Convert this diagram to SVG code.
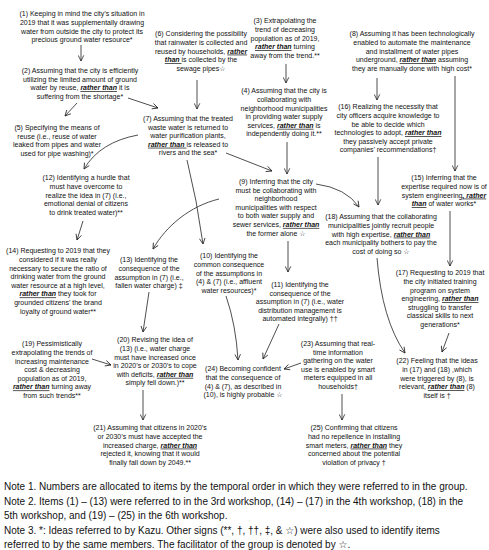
<svg xmlns="http://www.w3.org/2000/svg" width="489" height="550" viewBox="0 0 489 550">
<style>
.t{font-family:"Liberation Sans","DejaVu Sans",sans-serif;font-size:7px;fill:#111;text-anchor:middle}
.r{font-weight:bold;font-style:italic;text-decoration:underline}
.n{font-family:"Liberation Sans","DejaVu Sans",sans-serif;font-size:10px;fill:#111}
.c path{fill:none;stroke:#222;stroke-width:0.8;marker-end:url(#ah)}
</style>
<defs>
<marker id="ah" viewBox="0 0 8 8" refX="7.5" refY="4" markerWidth="7" markerHeight="7" markerUnits="userSpaceOnUse" orient="auto">
<path d="M1,0.8 L7.5,4 L1,7.2" fill="none" stroke="#222" stroke-width="0.9"/>
</marker>
</defs>
<rect width="489" height="550" fill="#fff"/>
<g class="c" id="connectors">
<path d="M81,45 L81,61"/>
<path d="M77,103 L65,116"/>
<path d="M128,98 L158,108"/>
<path d="M197,80 L197,109"/>
<path d="M286,64 L286,83"/>
<path d="M287,142 L287,174"/>
<path d="M226,153 L272,171"/>
<path d="M377,78 L377,100"/>
<path d="M455,76 L455,171"/>
<path d="M378,157 L378,205"/>
<path d="M450,211 L450,266"/>
<path d="M316,184 Q346,188 359,207"/>
<path d="M138,135 Q100,142 84,169"/>
<path d="M83,221 L77,240"/>
<path d="M219,199 C190,206 166,226 153,249"/>
<path d="M187,160 Q197,200 203,244"/>
<path d="M288,241 L288,272"/>
<path d="M149,292 Q146,312 143,332"/>
<path d="M92,359 L111,365"/>
<path d="M143,390 L143,420"/>
<path d="M226,296 Q236,325 238,360"/>
<path d="M279,324 L263,359"/>
<path d="M301,363 L284,369"/>
<path d="M342,394 L342,420"/>
<path d="M377,258 Q382,320 405,353"/>
<path d="M449,333 L442,352"/>
</g>
<g id="n1"><text class="t"><tspan x="82" y="16.4">(1) Keeping in mind the city’s situation in</tspan><tspan x="82" y="25">2019 that it was supplementally drawing</tspan><tspan x="82" y="33.6">water from outside the city to protect its</tspan><tspan x="82" y="42.2">precious ground water resource*</tspan></text></g>
<g id="n2"><text class="t"><tspan x="80" y="72.9">(2) Assuming that the city is efficiently</tspan><tspan x="80" y="81.5">utilizing the limited amount of ground</tspan><tspan x="80" y="90.1">water by reuse, <tspan class="r">rather than</tspan> it is</tspan><tspan x="80" y="98.7">suffering from the shortage*</tspan></text></g>
<g id="n5"><text class="t"><tspan x="57" y="129.9">(5) Specifying the means of</tspan><tspan x="57" y="138.5">reuse (i.e., reuse of water</tspan><tspan x="57" y="147.1">leaked from pipes and water</tspan><tspan x="57" y="155.7">used for pipe washing)*</tspan></text></g>
<g id="n6"><text class="t"><tspan x="201" y="36.4">(6) Considering the possibility</tspan><tspan x="201" y="45">that rainwater is collected and</tspan><tspan x="201" y="53.6">reused by households, <tspan class="r">rather</tspan></tspan><tspan x="201" y="62.2"><tspan class="r">than </tspan>is collected by the</tspan><tspan x="201" y="70.8">sewage pipes☆</tspan></text></g>
<g id="n7"><text class="t"><tspan x="188" y="120.9">(7) Assuming that the treated</tspan><tspan x="188" y="129.5">waste water is returned to</tspan><tspan x="188" y="138.1">water purification plants,</tspan><tspan x="188" y="146.7"><tspan class="r">rather than </tspan>is released to</tspan><tspan x="188" y="155.3">rivers and the sea*</tspan></text></g>
<g id="n3"><text class="t"><tspan x="285" y="23.4">(3) Extrapolating the</tspan><tspan x="285" y="32">trend of decreasing</tspan><tspan x="285" y="40.6">population as of 2019,</tspan><tspan x="285" y="49.2"><tspan class="r">rather than</tspan> turning</tspan><tspan x="285" y="57.8">away from the trend.**</tspan></text></g>
<g id="n4"><text class="t"><tspan x="284" y="93.4">(4) Assuming that the city is</tspan><tspan x="284" y="102">collaborating with</tspan><tspan x="284" y="110.6">neighborhood municipalities</tspan><tspan x="284" y="119.2">in providing water supply</tspan><tspan x="284" y="127.8">services, <tspan class="r">rather than</tspan> is</tspan><tspan x="284" y="136.4">independently doing it.**</tspan></text></g>
<g id="n8"><text class="t"><tspan x="412" y="36.4">(8) Assuming it has been technologically</tspan><tspan x="412" y="45">enabled to automate the maintenance</tspan><tspan x="412" y="53.6">and installment of water pipes</tspan><tspan x="412" y="62.2">underground, <tspan class="r">rather than</tspan> assuming</tspan><tspan x="412" y="70.8">they are manually done with high cost*</tspan></text></g>
<g id="n16"><text class="t"><tspan x="388" y="109.4">(16) Realizing the necessity that</tspan><tspan x="388" y="118">city officers acquire knowledge to</tspan><tspan x="388" y="126.6">be able to decide which</tspan><tspan x="388" y="135.2">technologies to adopt, <tspan class="r">rather than</tspan></tspan><tspan x="388" y="143.8">they passively accept private</tspan><tspan x="388" y="152.4">companies’ recommendations†</tspan></text></g>
<g id="n15"><text class="t"><tspan x="444" y="180.4">(15) Inferring that the</tspan><tspan x="444" y="189">expertise required now is of</tspan><tspan x="444" y="197.6">system engineering<tspan class="r">, rather</tspan></tspan><tspan x="444" y="206.2"><tspan class="r">than</tspan> of water works*</tspan></text></g>
<g id="n9"><text class="t"><tspan x="276" y="183.9">(9) Inferring that the city</tspan><tspan x="276" y="192.5">must be collaborating with</tspan><tspan x="276" y="201.1">neighborhood</tspan><tspan x="276" y="209.7">municipalities with respect</tspan><tspan x="276" y="218.3">to both water supply and</tspan><tspan x="276" y="226.9">sewer services, <tspan class="r">rather than</tspan></tspan><tspan x="276" y="235.5">the former alone ☆</tspan></text></g>
<g id="n18"><text class="t"><tspan x="381" y="219.4">(18) Assuming that the collaborating</tspan><tspan x="381" y="228">municipalities jointly recruit people</tspan><tspan x="381" y="236.6">with high expertise, <tspan class="r">rather than</tspan></tspan><tspan x="381" y="245.2">each municipality bothers to pay the</tspan><tspan x="381" y="253.8">cost of doing so ☆</tspan></text></g>
<g id="n12"><text class="t"><tspan x="86" y="180.4">(12) Identifying a hurdle that</tspan><tspan x="86" y="189">must have overcome to</tspan><tspan x="86" y="197.6">realize the idea in (7) (i.e.,</tspan><tspan x="86" y="206.2">emotional denial of citizens</tspan><tspan x="86" y="214.8">to drink treated water)**</tspan></text></g>
<g id="n14"><text class="t"><tspan x="58" y="253.4">(14) Requesting to 2019 that they</tspan><tspan x="58" y="262">considered if it was really</tspan><tspan x="58" y="270.6">necessary to secure the ratio of</tspan><tspan x="58" y="279.2">drinking water from the ground</tspan><tspan x="58" y="287.8">water resource at a high level,</tspan><tspan x="58" y="296.4"><tspan class="r">rather than</tspan> they took for</tspan><tspan x="58" y="305">grounded citizens’ the brand</tspan><tspan x="58" y="313.6">loyalty of ground water**</tspan></text></g>
<g id="n13"><text class="t"><tspan x="149" y="262.4">(13) Identifying the</tspan><tspan x="149" y="271">consequence of the</tspan><tspan x="149" y="279.6">assumption in (7) (i.e.,</tspan><tspan x="149" y="288.2">fallen water charge) ‡</tspan></text></g>
<g id="n10"><text class="t"><tspan x="229" y="258.4">(10) Identifying the</tspan><tspan x="229" y="267">common consequence</tspan><tspan x="229" y="275.6">of the assumptions in</tspan><tspan x="229" y="284.2">(4) &amp; (7) (i.e., affluent</tspan><tspan x="229" y="292.8">water resources)*</tspan></text></g>
<g id="n11"><text class="t"><tspan x="300" y="286.9">(11) Identifying the</tspan><tspan x="300" y="295.5">consequence of the</tspan><tspan x="300" y="304.1">assumption in (7) (i.e., water</tspan><tspan x="300" y="312.7">distribution management is</tspan><tspan x="300" y="321.3">automated integrally) ††</tspan></text></g>
<g id="n17"><text class="t"><tspan x="440" y="275.4">(17) Requesting to 2019 that</tspan><tspan x="440" y="284">the city initiated training</tspan><tspan x="440" y="292.6">program on system</tspan><tspan x="440" y="301.2">engineering, <tspan class="r">rather than</tspan></tspan><tspan x="440" y="309.8">struggling to transfer</tspan><tspan x="440" y="318.4">classical skills to next</tspan><tspan x="440" y="327">generations*</tspan></text></g>
<g id="n20"><text class="t"><tspan x="155" y="342.4">(20) Revising the idea of</tspan><tspan x="155" y="351">(13) (i.e., water charge</tspan><tspan x="155" y="359.6">must have increased once</tspan><tspan x="155" y="368.2">in 2020’s or 2030’s to cope</tspan><tspan x="155" y="376.8">with deficits, <tspan class="r">rather than</tspan></tspan><tspan x="155" y="385.4">simply fell down.)**</tspan></text></g>
<g id="n19"><text class="t"><tspan x="52" y="346.4">(19) Pessimistically</tspan><tspan x="52" y="355">extrapolating the trends of</tspan><tspan x="52" y="363.6">increasing maintenance</tspan><tspan x="52" y="372.2">cost &amp; decreasing</tspan><tspan x="52" y="380.8">population as of 2019,</tspan><tspan x="52" y="389.4"><tspan class="r">rather than</tspan> turning away</tspan><tspan x="52" y="398">from such trends**</tspan></text></g>
<g id="n21"><text class="t"><tspan x="150" y="430.4">(21) Assuming that citizens in 2020’s</tspan><tspan x="150" y="439">or 2030’s must have accepted the</tspan><tspan x="150" y="447.6">increased charge, <tspan class="r">rather than</tspan></tspan><tspan x="150" y="456.2">rejected it, knowing that it would</tspan><tspan x="150" y="464.8">finally fall down by 2049.**</tspan></text></g>
<g id="n24"><text class="t"><tspan x="243" y="371.4">(24) Becoming confident</tspan><tspan x="243" y="380">that the consequence of</tspan><tspan x="243" y="388.6">(4) &amp; (7), as described in</tspan><tspan x="243" y="397.2">(10), is highly probable ☆</tspan></text></g>
<g id="n23"><text class="t"><tspan x="338" y="345.9">(23) Assuming that real-</tspan><tspan x="338" y="354.5">time information</tspan><tspan x="338" y="363.1">gathering on the water</tspan><tspan x="338" y="371.7">use is enabled by smart</tspan><tspan x="338" y="380.3">meters equipped in  all</tspan><tspan x="338" y="388.9">households†</tspan></text></g>
<g id="n25"><text class="t"><tspan x="354" y="430.4">(25) Confirming that citizens</tspan><tspan x="354" y="439">had no repellence in installing</tspan><tspan x="354" y="447.6">smart meters, <tspan class="r">rather than</tspan> they</tspan><tspan x="354" y="456.2">concerned about the potential</tspan><tspan x="354" y="464.8">violation of privacy †</tspan></text></g>
<g id="n22"><text class="t"><tspan x="437" y="363.4">(22) Feeling that the ideas</tspan><tspan x="437" y="372">in (17) and (18) ,which</tspan><tspan x="437" y="380.6">were triggered by (8), is</tspan><tspan x="437" y="389.2">relevant, <tspan class="r">rather than</tspan> (8)</tspan><tspan x="437" y="397.8">itself is †</tspan></text></g>
<g id="notes"><text class="n"><tspan x="4" y="490">Note 1. Numbers are allocated to items by the temporal order in which they were referred to in the group.</tspan><tspan x="4" y="505">Note 2. Items (1) – (13) were referred to in the 3rd workshop, (14) – (17) in the 4th workshop, (18) in the</tspan><tspan x="4" y="519">5th workshop, and (19) – (25) in the 6th workshop.</tspan><tspan x="4" y="534">Note 3. *: Ideas referred to by Kazu. Other signs (**, †, ††, ‡, &amp; ☆) were also used to identify items</tspan><tspan x="4" y="548">referred to by the same members. The facilitator of the group is denoted by ☆.</tspan></text></g>
</svg>
